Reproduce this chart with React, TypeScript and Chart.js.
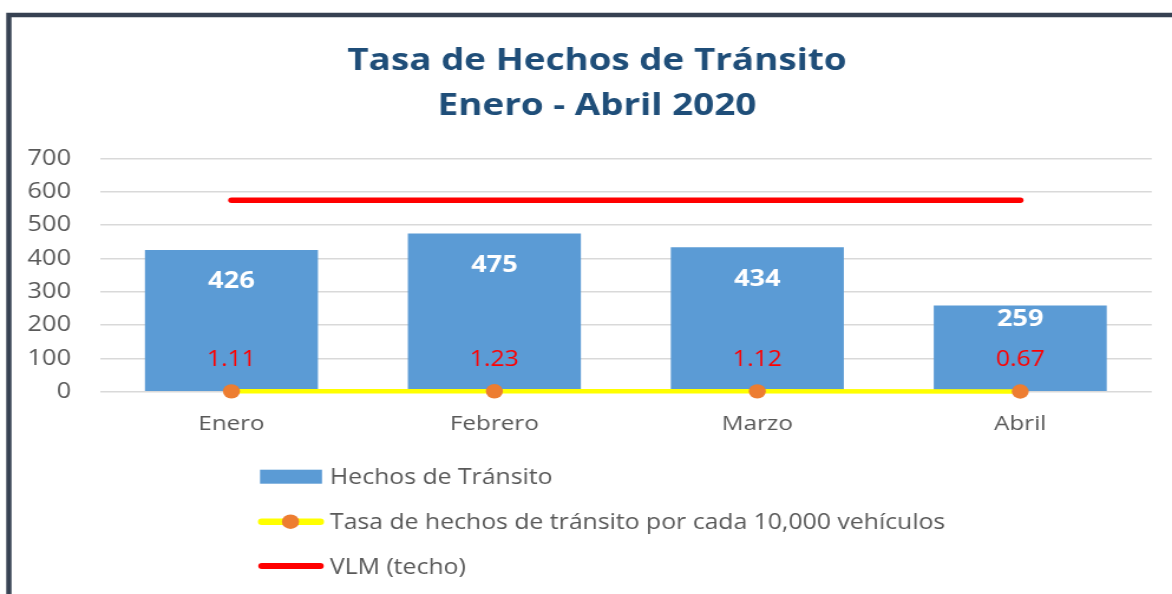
import React, { useEffect, useRef } from "react";
import { Chart, registerables } from "chart.js";

Chart.register(...registerables);

// ---- data ----
const categories = ["Enero", "Febrero", "Marzo", "Abril"];
const hechos = [426, 475, 434, 259];
const tasa = [1.11, 1.23, 1.12, 0.67];
const vlm = [575, 575, 575, 575];
const yMin = 0;
const yMax = 700;
const yStep = 100;
const titleLines = ["Tasa de Hechos de Tránsito", "Enero - Abril 2020"];
const seriesNames = [
  "Hechos de Tránsito",
  "Tasa de hechos de tránsito por cada 10,000 vehículos",
  "VLM (techo)",
];

// ---- style ----
const W = 993;
const H = 594;
const SX = 1172 / W;
const FONT = "'Open Sans', sans-serif";
const BAR_COLOR = "#5B9BD5";
const TASA_LINE = "#FFFF00";
const TASA_DOT = "#ED7D31";
const VLM_COLOR = "#FF0000";
const TEXT_GRAY = "#595959";
const barLabelOffsets = [32, 32, 32, 14];

const decorPlugin = {
  id: "decor",
  beforeDraw(chart: any) {
    const ctx = chart.ctx;
    ctx.save();
    ctx.fillStyle = "#ffffff";
    ctx.fillRect(0, 0, chart.width, chart.height);
    // frame
    ctx.strokeStyle = "#364152";
    ctx.lineWidth = 4.4;
    ctx.beginPath();
    ctx.moveTo(W + 10, 15);
    ctx.lineTo(7.5, 15);
    ctx.lineTo(7.5, H + 10);
    ctx.stroke();
    // title
    ctx.fillStyle = "#1F4E79";
    ctx.font = `bold 31.2px ${FONT}`;
    ctx.textAlign = "center";
    ctx.textBaseline = "alphabetic";
    ctx.fillText(titleLines[0], 505.8, 69.5);
    ctx.fillText(titleLines[1], 505.8, 115.2);
    ctx.restore();
  },
  afterDatasetsDraw(chart: any) {
    const ctx = chart.ctx;
    ctx.save();
    ctx.textAlign = "center";
    ctx.textBaseline = "middle";
    const barMeta = chart.getDatasetMeta(0);
    ctx.font = `bold 23px ${FONT}`;
    ctx.fillStyle = "#ffffff";
    barMeta.data.forEach((el: any, i: number) => {
      ctx.fillText(String(chart.data.datasets[0].data[i]), el.x, el.y + barLabelOffsets[i]);
    });
    const lineMeta = chart.getDatasetMeta(1);
    ctx.font = `21px ${FONT}`;
    ctx.fillStyle = "#FF0000";
    lineMeta.data.forEach((el: any, i: number) => {
      ctx.fillText(Number(chart.data.datasets[1].data[i]).toFixed(2), el.x, el.y - 31);
    });
    ctx.restore();
  },
  afterDraw(chart: any) {
    const ctx = chart.ctx;
    const ds = chart.data.datasets;
    const x0 = 220.3;
    const x1 = 272.8;
    const tx = 279.6;
    const rows = [476.7, 521.7, 566];
    ctx.save();
    ctx.font = `21px ${FONT}`;
    ctx.fillStyle = TEXT_GRAY;
    ctx.textAlign = "left";
    ctx.textBaseline = "middle";
    // bar item
    ctx.fillStyle = ds[0].backgroundColor;
    ctx.fillRect(x0, rows[0] - 7, x1 - x0, 14);
    // tasa item
    ctx.lineCap = "round";
    ctx.strokeStyle = ds[1].borderColor;
    ctx.lineWidth = 6.5;
    ctx.beginPath();
    ctx.moveTo(x0 + 1.5, rows[1]);
    ctx.lineTo(x1 - 1.5, rows[1]);
    ctx.stroke();
    ctx.fillStyle = ds[1].pointBackgroundColor;
    ctx.beginPath();
    ctx.arc((x0 + x1) / 2 - 0.4, rows[1], 7.3, 0, Math.PI * 2);
    ctx.fill();
    // vlm item
    ctx.strokeStyle = ds[2].borderColor;
    ctx.lineWidth = 6;
    ctx.beginPath();
    ctx.moveTo(x0 + 1.5, rows[2]);
    ctx.lineTo(x1 - 1.5, rows[2]);
    ctx.stroke();
    ctx.fillStyle = TEXT_GRAY;
    ds.forEach((d: any, i: number) => {
      ctx.fillText(d.label, tx, rows[i] + 1.8);
    });
    ctx.restore();
  },
};

export default function App() {
  const canvasRef = useRef<HTMLCanvasElement | null>(null);

  useEffect(() => {
    document.body.style.margin = "0";
    document.documentElement.style.overflow = "hidden";
    const canvas = canvasRef.current;
    if (!canvas) return;
    Chart.defaults.font.family = FONT;
    const chart = new Chart(canvas, {
      type: "bar",
      data: {
        labels: categories,
        datasets: [
          {
            type: "bar",
            label: seriesNames[0],
            data: hechos,
            backgroundColor: BAR_COLOR,
            borderWidth: 0,
            barPercentage: 0.658,
            categoryPercentage: 1,
            order: 3,
          } as any,
          {
            type: "line",
            label: seriesNames[1],
            data: tasa,
            borderColor: TASA_LINE,
            backgroundColor: TASA_LINE,
            borderWidth: 4.5,
            pointRadius: 7.2,
            pointBackgroundColor: TASA_DOT,
            pointBorderWidth: 0,
            pointBorderColor: TASA_DOT,
            tension: 0,
            clip: false,
            order: 1,
          } as any,
          {
            type: "line",
            label: seriesNames[2],
            data: vlm,
            borderColor: VLM_COLOR,
            backgroundColor: VLM_COLOR,
            borderWidth: 5.5,
            borderCapStyle: "round",
            pointRadius: 0,
            tension: 0,
            clip: false,
            order: 2,
          } as any,
        ],
      },
      options: {
        responsive: false,
        animation: false,
        devicePixelRatio: 1,
        layout: {
          padding: { top: 158.7, right: 17.2, left: 0, bottom: 594 - 391.7 - 60 },
        },
        plugins: {
          legend: { display: false },
          tooltip: { enabled: false },
          title: { display: false },
        },
        scales: {
          x: {
            grid: { display: false },
            border: { display: false },
            ticks: {
              color: TEXT_GRAY,
              font: { size: 20.5, family: FONT },
              padding: 12,
            },
            afterFit: (s: any) => {
              s.height = 60;
            },
          },
          y: {
            min: yMin,
            max: yMax,
            grid: { color: "#D9D9D9", lineWidth: 1.6, drawTicks: false },
            border: { display: false },
            ticks: {
              stepSize: yStep,
              color: TEXT_GRAY,
              font: { size: 21.5, family: FONT },
              padding: 24.5,
            },
            afterFit: (s: any) => {
              s.width = 84.7;
            },
          },
        },
      },
      plugins: [decorPlugin],
    });
    return () => chart.destroy();
  }, []);

  return (
    <div
      style={{
        position: "fixed",
        left: 0,
        top: 0,
        width: W,
        height: H,
        transform: `scaleX(${SX})`,
        transformOrigin: "0 0",
      }}
    >
      <canvas ref={canvasRef} width={W} height={H} style={{ display: "block", width: W, height: H }} />
    </div>
  );
}
